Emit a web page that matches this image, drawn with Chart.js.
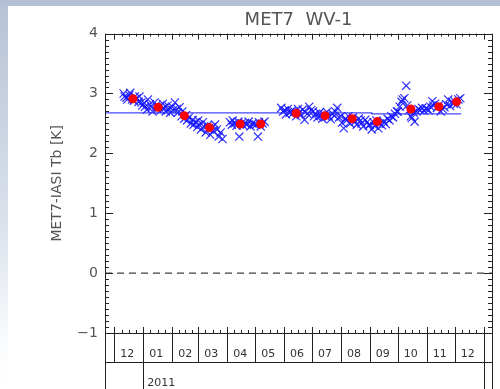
<!DOCTYPE html>
<html><head><meta charset="utf-8">
<script src="https://cdn.jsdelivr.net/npm/chart.js@4/dist/chart.umd.min.js"></script>
<style>
html,body{margin:0;padding:0;width:500px;height:389px;overflow:hidden;}
body{position:relative;background:linear-gradient(to bottom,#b6c2d6 0%,#d9e0ea 55%,#fbfcfd 90%,#ffffff 100%);}
#topbar{position:absolute;left:0;top:0;width:500px;height:6px;background:#b4c0d5;}
#panel{position:absolute;left:8px;top:6px;width:492px;height:383px;background:#ffffff;}
#c{position:absolute;left:0;top:0;}
</style></head><body>
<div id="topbar"></div><div id="panel"></div>
<canvas id="c" width="500" height="389"></canvas>
<script>
// ---------- data ----------
const titleText = 'MET7  WV-1';
const yAxisTitle = 'MET7-IASI Tb [K]';
const yearLabel = '2011';
const monthLabels = ['12','01','02','03','04','05','06','07','08','09','10','11','12'];
// day numbers counted from 1 Dec 2010
const monthStartDays = [0,31,62,90,121,151,182,212,243,274,304,335,365,396];
const yearStartDays = [31,396];
const xMin = -10, xMax = 405;
const yMin = -1, yMax = 4;

const crossDays = [
 10,11,13,14,16,17,19,21,22,24,26,27,29,30,
 32,33,35,36,38,40,41,43,45,46,48,50,52,53,55,57,58,60,
 62,63,65,67,68,70,72,73,75,77,78,80,82,84,85,87,89,
 90,91,93,95,96,98,100,101,103,105,106,108,110,112,114,116,
 124,126,127,129,131,133,134,136,138,140,142,144,146,148,150,
 152,154,155,157,159,161,
 179,181,183,184,186,188,190,191,193,195,197,198,200,202,204,205,207,209,211,
 213,214,216,218,220,221,223,225,227,228,230,232,234,236,237,239,241,
 243,244,246,248,249,251,253,255,256,258,260,262,264,265,267,269,271,273,
 274,276,278,279,281,283,285,287,289,291,293,295,297,299,301,303,
 304,306,308,309,311,313,314,316,318,319,321,322,324,326,328,330,332,334,
 335,337,339,341,342,344,346,348,350,352,354,356,358,360,362,364,
 365,367,369,371
];
const crossValues = [
 3.00,2.95,2.93,2.90,2.97,3.01,2.90,2.88,2.95,2.92,2.86,2.95,2.85,2.80,
 2.84,2.78,2.73,2.90,2.82,2.77,2.70,2.85,2.80,2.74,2.78,2.72,2.83,2.76,2.70,2.80,2.74,2.68,
 2.78,2.72,2.85,2.74,2.68,2.77,2.62,2.70,2.58,2.64,2.55,2.60,2.50,2.56,2.48,2.52,2.44,
 2.55,2.48,2.40,2.52,2.45,2.35,2.47,2.42,2.31,2.44,2.38,2.48,2.40,2.28,2.35,2.24,
 2.52,2.48,2.55,2.50,2.46,2.53,2.28,2.50,2.47,2.51,2.48,2.53,2.45,2.50,2.49,
 2.48,2.28,2.52,2.45,2.50,2.53,
 2.76,2.70,2.72,2.65,2.74,2.68,2.71,2.66,2.70,2.62,2.74,2.68,2.64,2.73,2.56,2.69,2.66,2.78,2.72,
 2.70,2.62,2.66,2.60,2.68,2.63,2.58,2.65,2.61,2.69,2.62,2.57,2.66,2.63,2.70,2.76,2.60,
 2.62,2.51,2.42,2.58,2.55,2.62,2.50,2.57,2.60,2.53,2.48,2.58,2.55,2.50,2.45,2.56,2.52,2.47,
 2.48,2.40,2.52,2.46,2.55,2.42,2.50,2.47,2.53,2.49,2.58,2.55,2.62,2.60,2.66,2.70,
 2.70,2.78,2.86,2.90,2.92,3.13,2.80,2.72,2.62,2.59,2.68,2.53,2.70,2.74,2.72,2.76,2.71,2.75,
 2.75,2.72,2.78,2.87,2.80,2.83,2.76,2.80,2.70,2.74,2.77,2.82,2.90,2.79,2.86,2.83,
 2.87,2.82,2.90,2.92
];
const monthMeanDays = [20,47,75,102,135,157,195,226,255,282,318,348,367];
const monthMeanValues = [2.91,2.77,2.63,2.43,2.49,2.49,2.67,2.63,2.58,2.53,2.74,2.78,2.86];
const biasLineDays = [-10,276,276,372];
const biasLineValues = [2.675,2.675,2.66,2.66];
const zeroLineValue = 0;

// ---------- chart ----------
const FONT = "'DejaVu Sans', sans-serif";
const pts = (xs, ys) => xs.map((d, i) => ({x: d, y: ys[i]}));

const framePlugin = {
  id: 'frame',
  afterDraw(chart) {
    const {ctx, chartArea: a} = chart;
    const x = chart.scales.x, y = chart.scales.y;
    const H = chart.height;
    const r = v => Math.round(v) + 0.5;
    const rowY = chart.scales.x.bottom;
    ctx.save();
    ctx.strokeStyle = '#222';
    ctx.lineWidth = 1;
    ctx.beginPath();
    ctx.moveTo(a.left, r(a.top)); ctx.lineTo(a.right, r(a.top));
    ctx.moveTo(a.left, r(a.bottom)); ctx.lineTo(a.right, r(a.bottom));
    ctx.moveTo(r(a.left), a.top); ctx.lineTo(r(a.left), H);
    ctx.moveTo(r(a.right), a.top); ctx.lineTo(r(a.right), H);
    ctx.moveTo(a.left, r(rowY)); ctx.lineTo(a.right, r(rowY));
    monthStartDays.forEach(d => {
      const px = r(x.getPixelForValue(d));
      ctx.moveTo(px, a.bottom); ctx.lineTo(px, rowY);
      ctx.moveTo(px, a.top); ctx.lineTo(px, a.top + 6);
      ctx.moveTo(px, a.bottom); ctx.lineTo(px, a.bottom - 6);
    });
    yearStartDays.forEach(d => {
      const px = r(x.getPixelForValue(d));
      ctx.moveTo(px, rowY); ctx.lineTo(px, H);
    });
    for (let i = 0; i < monthStartDays.length - 1; i++) {
      const s = monthStartDays[i], len = monthStartDays[i + 1] - s;
      for (let k = 1; k < 4; k++) {
        const px = r(x.getPixelForValue(s + len * k / 4));
        ctx.moveTo(px, a.top); ctx.lineTo(px, a.top + 3);
        ctx.moveTo(px, a.bottom); ctx.lineTo(px, a.bottom - 3);
      }
    }
    for (let k = yMin * 10; k <= yMax * 10; k++) {
      const py = r(y.getPixelForValue(k / 10));
      const len = (k % 10 === 0) ? 8 : 4;
      ctx.moveTo(a.left, py); ctx.lineTo(a.left + len, py);
      ctx.moveTo(a.right, py); ctx.lineTo(a.right - len, py);
    }
    ctx.stroke();
    ctx.restore();
  }
};

new Chart(document.getElementById('c'), {
  type: 'scatter',
  data: {
    datasets: [
      { label: 'monthly mean', data: pts(monthMeanDays, monthMeanValues), order: 0,
        pointStyle: 'circle', pointRadius: 4.5, backgroundColor: '#ff0000', borderColor: '#ff0000', borderWidth: 0 },
      { label: 'mean', data: pts(biasLineDays, biasLineValues), order: 1, showLine: true,
        pointRadius: 0, borderColor: 'rgba(50,50,255,0.9)', borderWidth: 1.3, tension: 0 },
      { label: 'daily', data: pts(crossDays, crossValues), order: 2,
        pointStyle: 'crossRot', pointRadius: 5.8, borderColor: 'rgba(20,20,255,0.88)', borderWidth: 1.2, backgroundColor: 'rgba(20,20,255,0.88)' },
      { label: 'zero', data: [{x: xMin, y: zeroLineValue}, {x: xMax, y: zeroLineValue}], order: 3, showLine: true,
        pointRadius: 0, borderColor: '#111', borderWidth: 1, borderDash: [7, 5] }
    ]
  },
  options: {
    responsive: false,
    animation: false,
    devicePixelRatio: 1,
    layout: { padding: { left: 49, right: 8, top: 10, bottom: 0 } },
    plugins: {
      legend: { display: false },
      tooltip: { enabled: false },
      title: { display: true, text: titleText, fullSize: false, color: '#555',
        font: { family: FONT, size: 18, weight: 'normal' }, padding: { top: 0, bottom: 2 } }
    },
    scales: {
      y: {
        type: 'linear', min: yMin, max: yMax, position: 'left',
        grid: { display: false, drawTicks: false }, border: { display: false },
        ticks: { stepSize: 1, padding: 7, color: '#555', font: { family: FONT, size: 14 },
          callback: v => (v < 0 ? '\u2212' + Math.abs(v) : String(v)) },
        title: { display: true, text: yAxisTitle, color: '#555', padding: 0,
          font: { family: FONT, size: 14 } },
        afterFit: s => { s.width = 56; }
      },
      x: {
        type: 'linear', min: xMin, max: xMax, position: 'bottom', weight: 0,
        grid: { display: false, drawTicks: false }, border: { display: false },
        afterBuildTicks: s => { s.ticks = monthStartDays.slice(0, monthLabels.length).map(v => ({value: v})); },
        ticks: { autoSkip: false, maxRotation: 0, align: 'start', labelOffset: 6, padding: 15,
          color: '#333', font: { family: FONT, size: 11 },
          callback: (v, i) => monthLabels[i] },
        afterFit: s => { s.height = 29; }
      },
      x2: {
        type: 'linear', min: xMin, max: xMax, position: 'bottom', weight: 1,
        grid: { display: false, drawTicks: false }, border: { display: false },
        afterBuildTicks: s => { s.ticks = [{value: yearStartDays[0]}]; },
        ticks: { autoSkip: false, maxRotation: 0, align: 'start', labelOffset: 4, padding: 15,
          color: '#333', font: { family: FONT, size: 11 },
          callback: () => yearLabel },
        afterFit: s => { s.height = 27; }
      }
    }
  },
  plugins: [framePlugin]
});
</script>
</body></html>
